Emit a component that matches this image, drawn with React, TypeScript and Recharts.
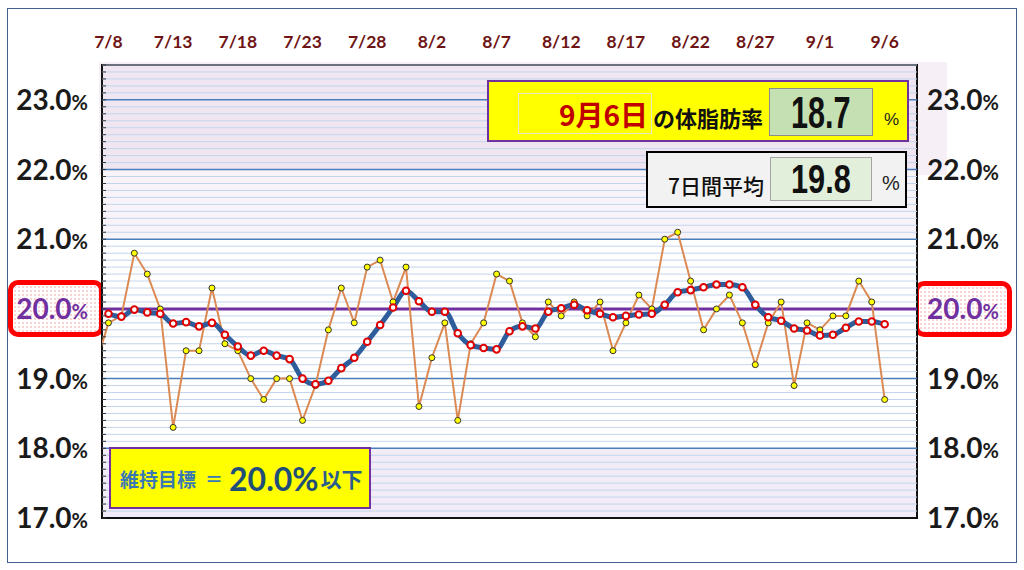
import React from "react";
import {
  ComposedChart,
  Line,
  XAxis,
  YAxis,
  ReferenceLine,
  ReferenceArea,
} from "recharts";

// 7/7 sits just left of the plot and is clipped, as in the original sheet
const dates = [
  "7/7", "7/8", "7/9", "7/10", "7/11", "7/12", "7/13", "7/14", "7/15", "7/16",
  "7/17", "7/18", "7/19", "7/20", "7/21", "7/22", "7/23", "7/24", "7/25", "7/26",
  "7/27", "7/28", "7/29", "7/30", "7/31", "8/1", "8/2", "8/3", "8/4", "8/5",
  "8/6", "8/7", "8/8", "8/9", "8/10", "8/11", "8/12", "8/13", "8/14", "8/15",
  "8/16", "8/17", "8/18", "8/19", "8/20", "8/21", "8/22", "8/23", "8/24", "8/25",
  "8/26", "8/27", "8/28", "8/29", "8/30", "8/31", "9/1", "9/2", "9/3", "9/4",
  "9/5", "9/6",
];

const bodyFat = [
  19.2, 19.8, 19.9, 20.8, 20.5, 20.0, 18.3, 19.4, 19.4, 20.3,
  19.5, 19.4, 19.0, 18.7, 19.0, 19.0, 18.4, 18.9, 19.7, 20.3,
  19.8, 20.6, 20.7, 20.1, 20.6, 18.6, 19.3, 19.8, 18.4, 19.5,
  19.8, 20.5, 20.4, 19.8, 19.6, 20.1, 19.9, 20.1, 19.9, 20.1,
  19.4, 19.8, 20.2, 20.0, 21.0, 21.1, 20.4, 19.7, 20.0, 20.2,
  19.8, 19.2, 19.8, 20.1, 18.9, 19.8, 19.7, 19.9, 19.9, 20.4,
  20.1, 18.7,
];

const weeklyAvg = [
  null, 19.93, 19.89, 19.99, 19.95, 19.93, 19.79, 19.81, 19.75, 19.8,
  19.63, 19.46, 19.33, 19.4, 19.33, 19.28, 19.0, 18.92, 18.97, 19.15,
  19.3, 19.53, 19.77, 20.02, 20.26, 20.11, 19.96, 19.96, 19.65, 19.48,
  19.44, 19.42, 19.68, 19.75, 19.72, 19.96, 20.01, 20.06, 19.98, 19.93,
  19.88, 19.9, 19.92, 19.93, 20.06, 20.24, 20.27, 20.31, 20.35, 20.35,
  20.31, 20.06, 19.88, 19.83, 19.72, 19.69, 19.62, 19.63, 19.73, 19.82,
  19.82, 19.78,
];

const xTicks = [1, 6, 11, 16, 21, 26, 31, 36, 41, 46, 51, 56, 61];
const yTicks = [17, 18, 19, 20, 21, 22, 23];
const goal = 20;
const latestDate = "9月6日";
const latestValue = "18.7";
const avgValue = "19.8";

// 0.1% steps for the thin grid lines
const minorTicks = Array.from({ length: 66 }, (_, k) => (170 + k) / 10);

const data = dates.map((d, i) => ({
  i,
  date: d,
  fat: bodyFat[i],
  avg: weeklyAvg[i],
}));

const numFont = "Lato, 'Open Sans', sans-serif";
const jpFont = "'Noto Sans CJK JP', sans-serif";

const XTick = (props: any) => {
  const { x, payload } = props;
  return (
    <text
      x={x}
      y={48}
      textAnchor="middle"
      fontFamily={numFont}
      fontWeight={700}
      fontSize={17.5}
      fill="#6e1414"
    >
      {dates[payload.value]}
    </text>
  );
};

const YLabel = ({ x, y, v, anchor }: any) => (
  <text
    x={x}
    y={y}
    dy={10}
    textAnchor={anchor}
    fontFamily={numFont}
    fontWeight={700}
    fontSize={28}
    fill={v === goal ? "#7030a0" : "#1a1a1a"}
  >
    {v.toFixed(1)}
    <tspan fontSize={20}>%</tspan>
  </text>
);

const LeftTick = (props: any) => {
  const { y, payload } = props;
  const v = payload.value;
  return (
    <g>
      <line x1={102} x2={106} y1={y} y2={y} stroke="#333" strokeWidth={1} />
      {yTicks.includes(v) && <YLabel x={88} y={y} v={v} anchor="end" />}
    </g>
  );
};

const RightTick = (props: any) => {
  const { y, payload } = props;
  return <YLabel x={927} y={y} v={payload.value} anchor="start" />;
};

const rawDot = (props: any) => {
  const { cx, cy, index } = props;
  if (index === 0 || cy == null) return <g key={`r-${index}`} />;
  return (
    <circle
      key={`r-${index}`}
      cx={cx}
      cy={cy}
      r={3}
      fill="#ffff00"
      stroke="#333"
      strokeWidth={1}
    />
  );
};

const avgDot = (props: any) => {
  const { cx, cy, index } = props;
  if (cy == null) return <g key={`a-${index}`} />;
  return (
    <circle
      key={`a-${index}`}
      cx={cx}
      cy={cy}
      r={3.3}
      fill="#fff"
      stroke="#e00000"
      strokeWidth={2}
    />
  );
};

const redBox: React.CSSProperties = {
  position: "absolute",
  boxSizing: "border-box",
  border: "5px solid #ff0000",
  borderRadius: 10,
  backgroundColor: "#fff",
  backgroundImage:
    "radial-gradient(circle, #f7bcbc 0.6px, transparent 0.9px)",
  backgroundSize: "4px 4px",
};

const App = () => {
  return (
    <div
      style={{
        position: "fixed",
        left: 0,
        top: 0,
        width: 1024,
        height: 570,
        background: "#fff",
        overflow: "hidden",
      }}
    >
      {/* pale band behind the upper part of the plot */}
      <div
        style={{
          position: "absolute",
          left: 99,
          top: 62,
          width: 848,
          height: 113,
          background: "#f6eff6",
        }}
      />
      <div style={{ ...redBox, left: 8, top: 280, width: 96, height: 57 }} />
      <div style={{ ...redBox, left: 914, top: 281, width: 98, height: 56 }} />

      <div style={{ position: "absolute", left: 0, top: 0 }}>
        <ComposedChart
          width={1024}
          height={570}
          data={data}
          margin={{ top: 35, right: 7, bottom: 52, left: 2 }}
        >
          <XAxis
            dataKey="i"
            type="number"
            orientation="top"
            domain={[0.5, 63.5]}
            ticks={xTicks}
            interval={0}
            allowDataOverflow
            axisLine={false}
            tickLine={false}
            height={30}
            tick={(p: any) => <XTick {...p} />}
          />
          <YAxis
            yAxisId="left"
            width={100}
            domain={[17, 23.5]}
            ticks={minorTicks}
            interval={0}
            allowDataOverflow
            axisLine={false}
            tickLine={false}
            tick={(p: any) => <LeftTick {...p} />}
          />
          <YAxis
            yAxisId="right"
            orientation="right"
            width={100}
            domain={[17, 23.5]}
            ticks={yTicks}
            interval={0}
            allowDataOverflow
            axisLine={false}
            tickLine={false}
            tick={(p: any) => <RightTick {...p} />}
          />

          <ReferenceArea yAxisId="left" x1={0.5} x2={63.5} y1={17} y2={18} fill="#f1ecf7" fillOpacity={1} />
          <ReferenceArea yAxisId="left" x1={0.5} x2={63.5} y1={18} y2={21} fill="#ffffff" fillOpacity={1} />
          <ReferenceArea yAxisId="left" x1={0.5} x2={63.5} y1={21} y2={22} fill="#f7f3f9" fillOpacity={1} />
          <ReferenceArea yAxisId="left" x1={0.5} x2={63.5} y1={22} y2={23.5} fill="#efe6f2" fillOpacity={1} />

          {minorTicks
            .filter((v) => !Number.isInteger(v))
            .map((v) => (
              <ReferenceLine key={`m-${v}`} yAxisId="left" y={v} stroke="#c3d5ec" strokeWidth={1} />
            ))}
          {yTicks
            .filter((v) => v !== 17)
            .map((v) => (
              <ReferenceLine key={`M-${v}`} yAxisId="left" y={v} stroke="#4a7ebb" strokeWidth={1.5} />
            ))}

          <ReferenceLine yAxisId="left" y={goal} stroke="#7030a0" strokeWidth={3} />

          <Line
            yAxisId="left"
            dataKey="fat"
            type="linear"
            stroke="#dc8a54"
            strokeWidth={2}
            dot={rawDot}
            activeDot={false}
            isAnimationActive={false}
          />
          <Line
            yAxisId="left"
            dataKey="avg"
            type="monotone"
            stroke="#2f5d9c"
            strokeWidth={5}
            dot={avgDot}
            activeDot={false}
            connectNulls={false}
            isAnimationActive={false}
          />

          <ReferenceArea
            yAxisId="left"
            x1={0.5}
            x2={63.5}
            y1={17}
            y2={23.5}
            fill="none"
            stroke="#111"
            strokeWidth={2}
          />
        </ComposedChart>
      </div>

      {/* latest value box */}
      <div
        style={{
          position: "absolute",
          left: 487,
          top: 80,
          width: 422,
          height: 62,
          boxSizing: "border-box",
          background: "#ffff00",
          border: "2px solid #7030a0",
        }}
      />
      <div
        style={{
          position: "absolute",
          left: 518,
          top: 93,
          width: 134,
          height: 41,
          boxSizing: "border-box",
          border: "1px solid #e8e8d0",
          display: "flex",
          alignItems: "center",
          justifyContent: "flex-end",
          paddingRight: 3,
          fontFamily: jpFont,
          fontWeight: 700,
          fontSize: 28,
          color: "#c00000",
        }}
      >
        {latestDate}
      </div>
      <div
        style={{
          position: "absolute",
          left: 653,
          top: 100,
          height: 34,
          lineHeight: "34px",
          fontFamily: jpFont,
          fontWeight: 700,
          fontSize: 22,
          color: "#111",
        }}
      >
        の体脂肪率
      </div>
      <div
        style={{
          position: "absolute",
          left: 769,
          top: 88,
          width: 104,
          height: 48,
          boxSizing: "border-box",
          background: "#c5e0b3",
          border: "1px solid #8c8c8c",
          display: "flex",
          alignItems: "center",
          justifyContent: "center",
        }}
      >
        <span
          style={{
            display: "inline-block",
            transform: "scaleX(0.68)",
            fontFamily: "'Liberation Sans', Arial, sans-serif",
            fontWeight: 700,
            fontSize: 45,
            lineHeight: "45px",
            color: "#111",
          }}
        >
          {latestValue}
        </span>
      </div>
      <div
        style={{
          position: "absolute",
          left: 884,
          top: 110,
          fontFamily: "'Liberation Sans', sans-serif",
          fontSize: 17,
          color: "#222",
        }}
      >
        %
      </div>

      {/* 7-day average box */}
      <div
        style={{
          position: "absolute",
          left: 646,
          top: 151,
          width: 261,
          height: 57,
          boxSizing: "border-box",
          background: "#f2f2f2",
          border: "2px solid #000",
        }}
      />
      <div
        style={{
          position: "absolute",
          left: 668,
          top: 168,
          height: 34,
          lineHeight: "34px",
          fontFamily: jpFont,
          fontWeight: 500,
          fontSize: 21,
          color: "#111",
        }}
      >
        7日間平均
      </div>
      <div
        style={{
          position: "absolute",
          left: 770,
          top: 157,
          width: 102,
          height: 44,
          boxSizing: "border-box",
          background: "#e2efda",
          border: "1px solid #a6a6a6",
          display: "flex",
          alignItems: "center",
          justifyContent: "center",
        }}
      >
        <span
          style={{
            display: "inline-block",
            transform: "scaleX(0.75)",
            fontFamily: "'Liberation Sans', Arial, sans-serif",
            fontWeight: 700,
            fontSize: 41,
            lineHeight: "41px",
            color: "#111",
          }}
        >
          {avgValue}
        </span>
      </div>
      <div
        style={{
          position: "absolute",
          left: 882,
          top: 172,
          fontFamily: "'Liberation Sans', sans-serif",
          fontSize: 20,
          color: "#222",
        }}
      >
        %
      </div>

      {/* goal box */}
      <div
        style={{
          position: "absolute",
          left: 109,
          top: 447,
          width: 262,
          height: 62,
          boxSizing: "border-box",
          background: "#ffff00",
          border: "2px solid #7030a0",
          display: "flex",
          alignItems: "center",
          paddingLeft: 9,
          fontFamily: jpFont,
          fontWeight: 700,
          whiteSpace: "nowrap",
        }}
      >
        <span style={{ fontSize: 19, color: "#3a78b5" }}>維持目標</span>
        <span style={{ fontSize: 18, color: "#3a78b5", margin: "0 6px 0 9px" }}>＝</span>
        <span style={{ fontSize: 32, color: "#1f4e79", fontFamily: numFont }}>
          {goal.toFixed(1)}%
        </span>
        <span style={{ fontSize: 21, color: "#2b5d8f", marginLeft: 2 }}>以下</span>
      </div>

      {/* outer frame */}
      <div
        style={{
          position: "absolute",
          left: 7,
          top: 8,
          width: 1010,
          height: 555,
          boxSizing: "border-box",
          border: "1.5px solid #44618f",
          pointerEvents: "none",
        }}
      />
    </div>
  );
};

export default App;
